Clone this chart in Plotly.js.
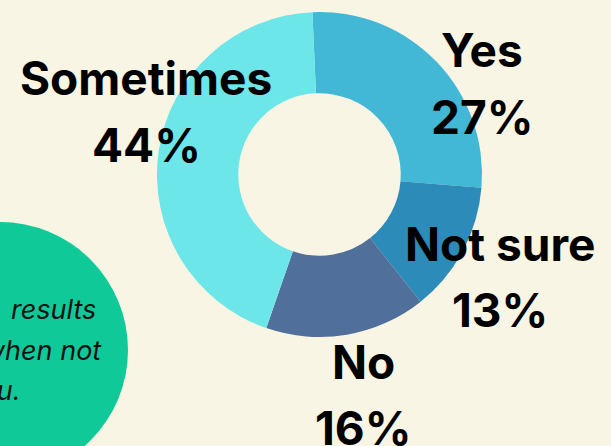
<!DOCTYPE html>
<html>
<head>
<meta charset="utf-8">
<script src="https://cdn.plot.ly/plotly-3.0.1.min.js"></script>
<style>html,body{margin:0;padding:0;background:#f8f5e4;}#chart{width:611px;height:446px;}</style>
</head>
<body>
<div id="chart"></div>
<script>
const labels = ["Yes", "Not sure", "No", "Sometimes"];
const values = [27, 13, 16, 44];
const colors = ["#43b8d6", "#2d8bba", "#506f9a", "#6ce6e8"];
const noteLines = ["results", "when not", "you."];

const W = 611, H = 446;
const px = x => x / W;
const py = y => 1 - y / H;

// label positions (centers of label/percentage lines), in pixels
const labelPos = [
  [482, 50, 117],
  [500, 244, 310],
  [363, 362, 428],
  [146, 78, 145]
];

const total = values.reduce((a, b) => a + b, 0);
const annotations = [];
labels.forEach((lab, i) => {
  const [x, y1, y2] = labelPos[i];
  const pct = Math.round(values[i] / total * 100) + "%";
  annotations.push({xref: "paper", yref: "paper", x: px(x), y: py(y1), text: lab, showarrow: false,
    xanchor: "center", yanchor: "middle", font: {family: "Inter", size: 46, weight: 700, color: "#000"}});
  annotations.push({xref: "paper", yref: "paper", x: px(x), y: py(y2), text: pct, showarrow: false,
    xanchor: "center", yanchor: "middle", font: {family: "Inter", size: 46, weight: 700, color: "#000"}});
});
const noteRight = [98, 104, 23];
const noteY = [309, 350, 390];
noteLines.forEach((t, i) => {
  annotations.push({xref: "paper", yref: "paper", x: px(noteRight[i]), y: py(noteY[i]), text: "<i>" + t + "</i>",
    showarrow: false, xanchor: "right", yanchor: "middle", font: {family: "Inter", size: 27, color: "#111"}});
});

const data = [{
  type: "pie",
  labels: labels,
  values: values,
  hole: 0.5,
  sort: false,
  direction: "clockwise",
  rotation: -2.5,
  marker: {colors: colors, line: {width: 0}},
  textinfo: "none",
  hoverinfo: "label+percent",
  showlegend: false,
  domain: {x: [px(157), px(482)], y: [py(337), py(12)]}
}];

const layout = {
  width: W, height: H,
  margin: {l: 0, r: 0, t: 0, b: 0},
  paper_bgcolor: "#f8f5e4",
  plot_bgcolor: "#f8f5e4",
  showlegend: false,
  shapes: [{type: "circle", xref: "paper", yref: "paper", layer: "below",
    x0: px(-128), x1: px(128), y0: py(478), y1: py(222),
    fillcolor: "#10c999", line: {width: 0}}],
  annotations: annotations
};

Plotly.newPlot("chart", data, layout, {displayModeBar: false, staticPlot: true});
</script>
</body>
</html>
